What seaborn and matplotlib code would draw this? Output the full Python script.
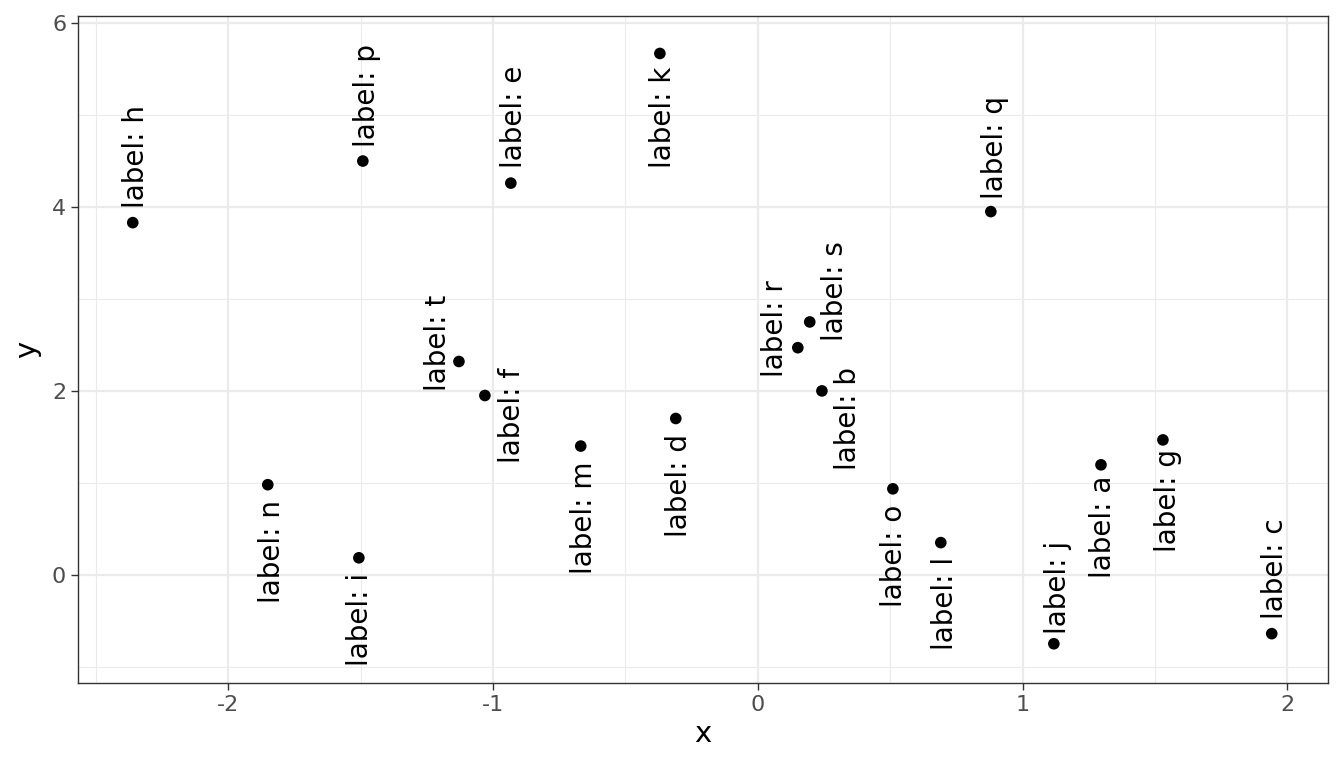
import matplotlib
matplotlib.use('Agg')
import matplotlib.pyplot as plt
from matplotlib.ticker import MultipleLocator
from matplotlib.transforms import offset_copy
import pandas as pd
import seaborn as sns

# point data
names = ["a", "b", "c", "d", "e", "f", "g", "h", "i", "j",
         "k", "l", "m", "n", "o", "p", "q", "r", "s", "t"]
x_vals = [1.296, 0.242, 1.941, -0.310, -0.933, -1.031, 1.530, -2.361, -1.507, 1.118,
          -0.370, 0.691, -0.669, -1.851, 0.510, -1.492, 0.880, 0.151, 0.196, -1.129]
y_vals = [1.196, 2.00, -0.64, 1.70, 4.26, 1.95, 1.467, 3.83, 0.185, -0.75,
          5.67, 0.35, 1.40, 0.98, 0.935, 4.50, 3.95, 2.47, 2.75, 2.32]

# where the repelled labels ended up (label centres, data units)
label_x = [1.295, 0.332, 1.945, -0.306, -0.929, -0.937, 1.541, -2.357, -1.511, 1.126,
           -0.366, 0.699, -0.665, -1.843, 0.506, -1.484, 0.888, 0.057, 0.283, -1.216]
label_y = [0.522, 1.696, 0.065, 0.967, 4.978, 1.728, 0.804, 4.554, -0.489, -0.141,
           4.978, -0.315, 0.620, 0.250, 0.207, 5.217, 4.652, 2.674, 3.087, 2.522]

df = pd.DataFrame({"x": x_vals, "y": y_vals, "name": names,
                   "lx": label_x, "ly": label_y})

sns.set_theme(style="white")
plt.rcParams['font.family'] = ['DejaVu Sans']
plt.rcParams['axes.unicode_minus'] = False

fig = plt.figure(figsize=(13.44, 7.68), dpi=100)
ax = fig.add_axes([0.058, 0.111, 0.930, 0.868])

sns.scatterplot(data=df, x="x", y="y", color="black", s=70,
                edgecolor="none", ax=ax, zorder=3)

# small nudge so the ink sits where ggrepel put it
label_tf = offset_copy(ax.transData, fig=fig, x=2.5, y=0, units="dots")
for _, row in df.iterrows():
    ax.text(row["lx"], row["ly"], f"label: {row['name']}", rotation=90,
            ha="center", va="center", fontsize=20, color="black", zorder=4,
            transform=label_tf)

ax.set_xlim(-2.568, 2.153)
ax.set_ylim(-1.174, 6.076)
ax.xaxis.set_major_locator(MultipleLocator(1))
ax.xaxis.set_minor_locator(MultipleLocator(0.5))
ax.yaxis.set_major_locator(MultipleLocator(2))
ax.yaxis.set_minor_locator(MultipleLocator(1))

ax.grid(which="major", color="#EBEBEB", linewidth=1.6)
ax.grid(which="minor", color="#EBEBEB", linewidth=0.8)
ax.set_axisbelow(True)

for sp in ax.spines.values():
    sp.set_color("#333333")
    sp.set_linewidth(1.0)

ax.tick_params(which="major", length=5, width=1.0, color="#333333",
               labelsize=16, labelcolor="#4D4D4D", direction="out",
               bottom=True, left=True)
ax.tick_params(which="minor", length=0)

ax.set_xlabel("x", fontsize=21, color="black", labelpad=4)
ax.set_ylabel("y", fontsize=21, color="black", labelpad=8)

fig.savefig("out.png", dpi=100)
plt.close(fig)
